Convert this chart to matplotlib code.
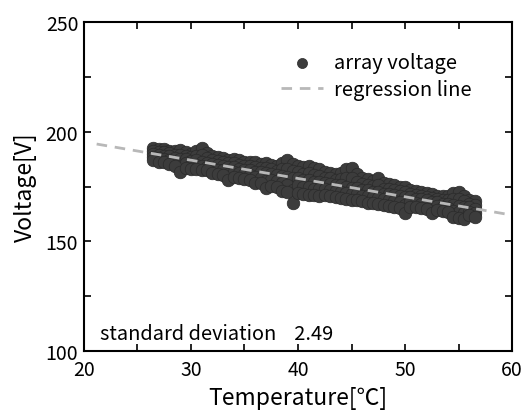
import matplotlib
matplotlib.use('Agg')
import matplotlib.pyplot as plt
from matplotlib.ticker import MultipleLocator

plt.rcParams['font.family'] = ['Noto Sans CJK JP', 'DejaVu Sans']

# temperature grid of the measured points [deg C]
temps = [26.5, 27, 27.5, 28, 28.5, 29, 29.5, 30, 30.5, 31, 31.5, 32, 32.5, 33, 33.5,
         34, 34.5, 35, 35.5, 36, 36.5, 37, 37.5, 38, 38.5, 39, 39.5, 40, 40.5, 41,
         41.5, 42, 42.5, 43, 43.5, 44, 44.5, 45, 45.5, 46, 46.5, 47, 47.5, 48, 48.5,
         49, 49.5, 50, 50.5, 51, 51.5, 52, 52.5, 53, 53.5, 54, 54.5, 55, 55.5, 56, 56.5]

# array voltage, five layers of the scatter band from top to bottom [V]
volt_high = [192.5, 192.3, 192.0, 191.4, 191.1, 191.5, 190.7, 189.9, 191.0, 192.8, 190.4,
             189.1, 188.7, 187.8, 187.3, 187.4, 187.0, 186.3, 186.4, 186.4, 185.5, 185.8,
             184.9, 184.3, 185.9, 186.9, 185.1, 184.5, 183.9, 184.3, 183.6, 182.8, 181.7,
             181.4, 180.9, 181.2, 182.8, 183.3, 180.5, 178.8, 178.3, 177.7, 178.9, 176.4,
             176.1, 175.6, 174.9, 174.7, 173.5, 173.1, 172.3, 172.0, 171.7, 170.9, 170.8,
             170.5, 172.1, 172.7, 170.9, 168.7, 168.2]
volt_q1 = [191.1, 190.9, 190.6, 190.2, 189.5, 189.6, 189.1, 188.4, 189.0, 189.6, 188.0,
           187.3, 186.8, 186.2, 185.6, 185.6, 185.0, 184.5, 184.5, 184.1, 183.6, 183.4,
           182.9, 182.2, 182.9, 183.1, 181.9, 181.7, 180.9, 181.2, 180.4, 180.0, 179.0,
           178.8, 178.2, 178.3, 178.9, 178.7, 177.3, 176.1, 175.8, 175.1, 175.7, 174.1,
           173.9, 173.3, 172.9, 172.4, 171.8, 171.2, 170.7, 170.4, 169.9, 169.4, 169.0,
           168.8, 169.2, 169.5, 168.2, 167.1, 166.5]
volt_mid = [189.8, 189.6, 189.0, 188.8, 188.1, 187.6, 187.7, 186.8, 186.9, 186.4, 185.6,
            185.5, 184.8, 184.6, 183.9, 183.8, 183.1, 182.7, 182.6, 181.8, 181.7, 181.0,
            180.9, 180.2, 180.0, 179.3, 178.8, 178.9, 178.0, 178.1, 177.2, 177.2, 176.4,
            176.3, 175.6, 175.5, 175.0, 174.2, 174.2, 173.5, 173.4, 172.6, 172.6, 171.8,
            171.8, 171.0, 170.9, 170.1, 170.1, 169.3, 169.2, 168.8, 168.1, 168.0, 167.2,
            167.1, 166.4, 166.3, 165.6, 165.5, 164.8]
volt_q3 = [188.4, 188.0, 187.5, 187.1, 186.3, 184.5, 185.6, 185.0, 184.9, 184.5, 184.0,
           183.3, 182.7, 182.4, 180.9, 181.5, 181.0, 180.5, 180.3, 179.2, 179.0, 177.6,
           178.1, 177.6, 176.4, 175.8, 173.2, 175.5, 174.9, 174.7, 174.1, 173.8, 173.7,
           173.4, 172.9, 172.7, 172.1, 171.6, 171.4, 170.9, 170.5, 170.0, 169.8, 169.2,
           168.9, 168.3, 168.0, 166.5, 167.8, 167.4, 167.2, 166.8, 165.4, 166.0, 165.5,
           165.2, 163.8, 163.5, 163.0, 163.6, 163.0]
volt_low = [186.9, 186.4, 186.1, 185.5, 184.3, 181.5, 183.5, 183.1, 183.0, 182.6, 182.4,
            181.1, 180.6, 180.1, 177.8, 179.3, 178.9, 178.3, 178.1, 176.6, 176.4, 174.3,
            175.4, 175.0, 172.8, 172.3, 167.6, 172.2, 171.8, 171.3, 171.1, 170.5, 171.1,
            170.6, 170.3, 169.9, 169.3, 169.0, 168.7, 168.3, 167.6, 167.4, 167.0, 166.6,
            166.1, 165.7, 165.2, 162.9, 165.6, 165.5, 165.2, 164.8, 162.7, 164.1, 163.8,
            163.3, 161.2, 160.7, 160.3, 161.8, 161.3]

# regression line V = a + b*(T-20)
reg_a = 195.4
reg_b = -0.836
reg_range = [21.2, 60.0]
std_dev = 2.49

fig = plt.figure(figsize=(5.27, 4.14), dpi=100)
ax = fig.add_axes([0.159, 0.150, 0.813, 0.794])

all_t = temps * 5
all_v = volt_high + volt_q1 + volt_mid + volt_q3 + volt_low
ax.scatter(all_t, all_v, s=82, color='#3c3c3c', edgecolors='#2a2a2a', linewidths=0.5,
           zorder=2, label='array voltage')

reg_v = [reg_a + reg_b * (t - 20) for t in reg_range]
ax.plot(reg_range, reg_v, color='#b8b8b8', lw=2, dashes=(3.8, 2.8), zorder=3,
        label='regression line')

ax.set_xlim(20, 60)
ax.set_ylim(100, 250)
ax.xaxis.set_major_locator(MultipleLocator(10))
ax.xaxis.set_minor_locator(MultipleLocator(5))
ax.yaxis.set_major_locator(MultipleLocator(50))
ax.yaxis.set_minor_locator(MultipleLocator(25))
ax.tick_params(which='both', direction='in', top=True, right=True, labelsize=14, width=1.2)
ax.tick_params(which='major', length=5)
ax.tick_params(which='minor', length=5)
ax.tick_params(axis='x', which='major', pad=6)
ax.tick_params(axis='y', which='major', pad=4)
for sp in ax.spines.values():
    sp.set_linewidth(1.5)

ax.set_xlabel('Temperature[℃]', fontsize=16.5, labelpad=4)
ax.set_ylabel('Voltage[V]', fontsize=16.5, labelpad=6)

ax.text(0.038, 0.054, 'standard deviation    %.2f' % std_dev, transform=ax.transAxes,
        fontsize=14.4, va='center')

ax.legend(loc='upper left', bbox_to_anchor=(0.417, 0.964), frameon=False, fontsize=14.5,
          handlelength=2.1, handletextpad=0.55, labelspacing=0.3, markerscale=0.8)

fig.savefig('out.png', dpi=100)
